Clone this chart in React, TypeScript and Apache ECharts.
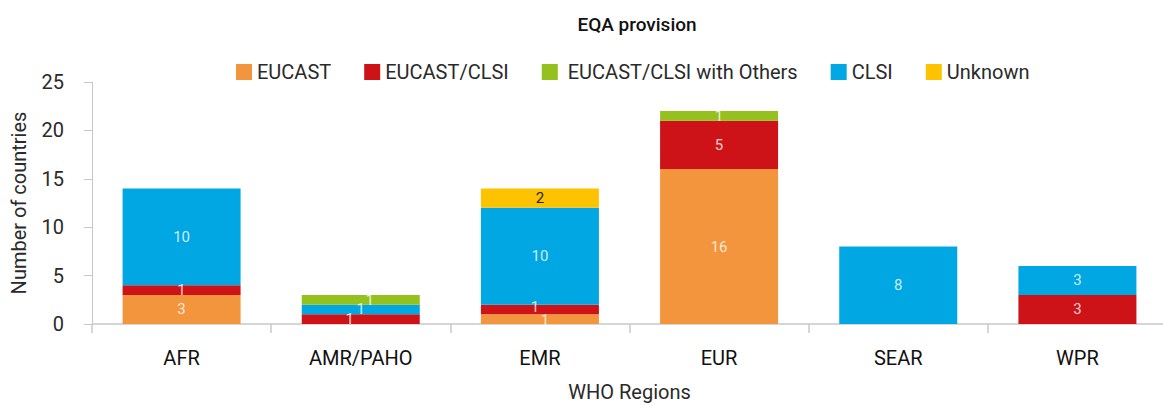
import React, { useEffect, useRef } from "react";
import * as echarts from "echarts";

const categories = ["AFR", "AMR/PAHO", "EMR", "EUR", "SEAR", "WPR"];
const eucast = [3, 0, 1, 16, 0, 0];
const eucastClsi = [1, 1, 1, 5, 0, 3];
const clsi = [10, 1, 10, 0, 8, 3];
const withOthers = [0, 1, 0, 1, 0, 0];
const unknown = [0, 0, 2, 0, 0, 0];
const legendOrder = ["EUCAST", "EUCAST/CLSI", "EUCAST/CLSI with Others", "CLSI", "Unknown"];
const yTicks = [0, 5, 10, 15, 20, 25];

const FONT = "Roboto";

export default function App() {
  const ref = useRef<HTMLDivElement>(null);
  useEffect(() => {
    if (!ref.current) return;
    const chart = echarts.init(ref.current, null, { renderer: "svg" });
    // label nudges for thin stacked segments (as placed in the reference)
    const nudge: Record<string, Record<string, number[]>> = {
      "AMR/PAHO": { "EUCAST/CLSI": [-11, 0], CLSI: [0, 0], "EUCAST/CLSI with Others": [9, 0] },
      EMR: { EUCAST: [5, 1], "EUCAST/CLSI": [-5, -2] },
    };
    const mk = (name: string, data: number[], color: string, labelColor: string) => ({
      name,
      type: "bar",
      stack: "total",
      data: data.map((v, i) => {
        const off = nudge[categories[i]]?.[name];
        return off ? { value: v, label: { offset: off } } : v;
      }),
      barWidth: 118,
      itemStyle: { color },
      label: {
        show: true,
        position: "inside",
        color: labelColor,
        fontFamily: FONT,
        fontSize: 15,
        formatter: (p: any) => (p.value ? String(p.value) : ""),
      },
    });
    chart.setOption({
      animation: false,
      textStyle: { fontFamily: FONT },
      title: {
        text: "EQA provision",
        left: 632,
        textAlign: "center",
        top: 10,
        textStyle: { fontFamily: FONT, fontSize: 19, fontWeight: 500, color: "#111" },
      },
      legend: {
        data: legendOrder,
        top: 57,
        left: 231,
        icon: "rect",
        itemWidth: 16,
        itemHeight: 16,
        itemGap: 33,
        textStyle: { fontFamily: FONT, fontSize: 20, color: "#2a2a2a" },
        formatter: (n: string) => (n === "EUCAST/CLSI with Others" ? " " + n : n),
      },
      grid: { left: 92, top: 82, width: 1075, height: 242, containLabel: false, outerBoundsMode: "none" },
      xAxis: {
        type: "category",
        data: categories,
        name: "WHO Regions",
        nameLocation: "middle",
        nameGap: 58,
        nameTextStyle: { fontFamily: FONT, fontSize: 20, color: "#2a2a2a" },
        axisLine: { lineStyle: { color: "#c8c8c8", width: 1.5 } },
        axisTick: { show: true, length: 9, lineStyle: { color: "#c8c8c8", width: 1.5 } },
        axisLabel: { fontFamily: FONT, fontSize: 20, color: "#111", margin: 24 },
      },
      yAxis: {
        type: "value",
        min: yTicks[0],
        max: yTicks[yTicks.length - 1],
        interval: 5,
        name: "Number of countries",
        nameLocation: "middle",
        nameGap: 63,
        nameTextStyle: { fontFamily: FONT, fontSize: 20, color: "#2a2a2a" },
        axisLine: { show: true, lineStyle: { color: "#c8c8c8", width: 1 } },
        axisTick: { show: true, length: 8, lineStyle: { color: "#c8c8c8" } },
        axisLabel: { fontFamily: FONT, fontSize: 20, color: "#2a2a2a", margin: 28 },
        splitLine: { show: false },
      },
      series: [
        mk("EUCAST", eucast, "#F3953C", "rgba(255,255,255,0.8)"),
        mk("EUCAST/CLSI", eucastClsi, "#CD1317", "rgba(255,255,255,0.8)"),
        mk("CLSI", clsi, "#00A7E3", "rgba(255,255,255,0.8)"),
        mk("EUCAST/CLSI with Others", withOthers, "#95C11F", "rgba(255,255,255,0.8)"),
        mk("Unknown", unknown, "#FDC300", "#222"),
      ],
    });
    return () => chart.dispose();
  }, []);
  return <div ref={ref} style={{ width: 1163, height: 405, position: "absolute", left: 0, top: 0 }} />;
}
